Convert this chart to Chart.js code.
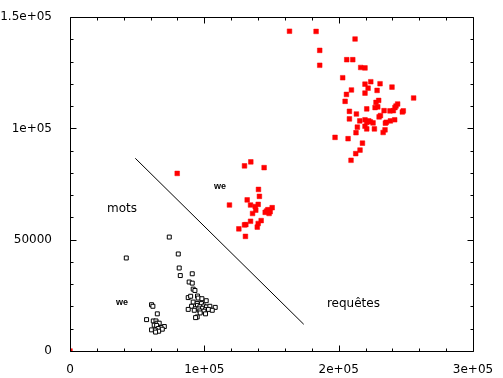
<!DOCTYPE html>
<html>
<head>
<meta charset="utf-8">
<script src="https://cdn.jsdelivr.net/npm/chart.js@4/dist/chart.umd.min.js"></script>
<style>
html,body{margin:0;padding:0;background:#fff;}
#wrap{width:503px;height:378px;}
</style>
</head>
<body>
<div id="wrap"><canvas id="c" width="503" height="378"></canvas></div>
<script>
// ---- data ----
const motsX = [41900,73900,80600,81300,82100,91000,88700,91000,91700,93000,88000,89800,94900,95400,98200,101400,91700,94700,97900,90500,94900,96700,99700,101600,104100,108100,93200,95900,98700,100900,103100,105900,88000,92500,96700,99700,96900,100900,94700,93500,
  60700,61700,65000,57000,62000,64000,64700,66400,62700,64500,70200,67700,65700,68700,60700,63500,66000,63700];
const motsY = [41800,51200,43600,37300,33900,34700,31000,30500,27800,27200,24000,24600,24700,23800,23500,22600,22000,21400,21300,20100,20500,19900,20200,19800,20100,19600,19000,18900,19200,18600,18700,18300,18700,18300,18000,17900,17100,16700,15300,15000,
  20800,20100,16700,14100,13500,13500,12500,12500,11600,11500,11000,10600,10100,9800,9500,9400,8900,8500];

const reqX = [0,
  79800,129900,134600,144500,140300,141000,131900,118700,134400,137900,140100,150500,147300,146300,145300,149000,148200,138300,135900,142300,134400,130900,129900,140100,139400,125700,130600,
  163400,183200,212200,185900,185900,206000,210500,216400,219600,203000,223900,219600,230800,239700,209500,221900,228600,205800,219600,255800,204800,229800,227800,227100,229100,220900,243900,242700,241900,240700,238200,233800,248100,247400,208000,213200,231100,230100,208000,215700,219600,222400,223600,225600,220900,235500,238500,241700,234800,213900,219600,220900,226600,234500,233100,212900,197300,207000,217700,215900,212700,209200];
const reqY = [0,
  79800,83200,85000,82400,72600,69500,67900,65600,65600,64900,65900,64400,63500,62900,62300,62600,61800,63300,61800,58600,58300,56800,56700,57300,55700,54900,51500,
  143700,143600,140200,135100,128400,130900,130900,127400,127200,122800,121000,119900,120100,118600,117300,118100,117100,115300,115900,113700,112200,112600,111700,109400,109700,108800,111000,110100,109400,108000,107900,108000,107900,107400,107700,106500,105800,105200,104300,103400,103900,103400,103000,102500,102700,102800,103400,103900,102400,100600,101000,99800,99800,99400,98200,98100,96000,95400,93400,90300,88700,85700];

const sepX = [48600, 174000];
const sepY = [86600, 12000];

const xTickValues = [0, 100000, 200000, 300000];
const xTickLabels = ['0', '1e+05', '2e+05', '3e+05'];
const yTickValues = [0, 50000, 100000, 150000];
const yTickLabels = ['0', '50000', '1e+05', '1.5e+05'];

const noteTexts = ['mots', 'requêtes', 'we', 'we'];
const noteX = [38700, 211000, 38700, 111700];
const noteY = [63800, 21400, 21900, 73700];
const noteBig = [true, true, false, false];

// ---- build ----
const toPts = (xs, ys) => xs.map((x, i) => ({x: x, y: ys[i]}));

const framePlugin = {
  id: 'frameTicks',
  afterDatasetsDraw(chart) {
    const ctx = chart.ctx, a = chart.chartArea;
    const xs = chart.scales.x, ys = chart.scales.y;
    ctx.save();
    ctx.strokeStyle = '#000';
    ctx.lineWidth = 1;
    const L = Math.round(a.left) + 0.5, R = Math.round(a.right) + 0.5;
    const T = Math.round(a.top) + 0.5, B = Math.round(a.bottom) + 0.5;
    ctx.beginPath();
    ctx.rect(L, T, R - L, B - T);
    ctx.stroke();
    ctx.beginPath();
    xs.ticks.forEach(t => {
      const p = Math.round(xs.getPixelForValue(t.value)) + 0.5;
      const len = xTickValues.indexOf(t.value) >= 0 ? 6 : 3;
      ctx.moveTo(p, B); ctx.lineTo(p, B - len);
      ctx.moveTo(p, T); ctx.lineTo(p, T + len);
    });
    ys.ticks.forEach(t => {
      const p = Math.round(ys.getPixelForValue(t.value)) + 0.5;
      const len = yTickValues.indexOf(t.value) >= 0 ? 6 : 3;
      ctx.moveTo(L, p); ctx.lineTo(L + len, p);
      ctx.moveTo(R, p); ctx.lineTo(R - len, p);
    });
    ctx.stroke();
    // notes
    ctx.fillStyle = '#000';
    ctx.textAlign = 'center';
    ctx.textBaseline = 'middle';
    noteTexts.forEach((txt, i) => {
      ctx.font = noteBig[i] ? '12px "DejaVu Sans"' : 'bold 9px "Liberation Sans"';
      ctx.fillText(txt, xs.getPixelForValue(noteX[i]), ys.getPixelForValue(noteY[i]));
    });
    ctx.restore();
  }
};

new Chart(document.getElementById('c'), {
  type: 'scatter',
  data: {
    datasets: [
      {
        label: 'sep', type: 'line', data: toPts(sepX, sepY),
        borderColor: '#000', borderWidth: 1, pointRadius: 0, showLine: true, fill: false
      },
      {
        label: 'mots', data: toPts(motsX, motsY),
        pointStyle: 'rect', pointRadius: 2.8, borderColor: '#000', backgroundColor: '#fff', borderWidth: 1
      },
      {
        label: 'requetes', data: toPts(reqX, reqY),
        pointStyle: 'rect', pointRadius: 3.3, borderColor: '#f00', backgroundColor: '#f00', borderWidth: 0.5
      }
    ]
  },
  options: {
    responsive: false,
    animation: false,
    events: [],
    layout: { padding: { top: 15, right: 30, left: 0, bottom: 0 } },
    plugins: { legend: { display: false }, tooltip: { enabled: false } },
    scales: {
      x: {
        type: 'linear', min: 0, max: 300000,
        afterFit: s => { s.height = 27; },
        grid: { display: false }, border: { display: false },
        ticks: {
          stepSize: 20000, autoSkip: false, maxRotation: 0, padding: 4,
          color: '#000', font: { family: 'DejaVu Sans', size: 12 },
          callback: v => { const i = xTickValues.indexOf(v); return i >= 0 ? xTickLabels[i] : ''; }
        }
      },
      y: {
        type: 'linear', min: 0, max: 150000,
        afterFit: s => { s.width = 70; },
        grid: { display: false }, border: { display: false },
        ticks: {
          stepSize: 10000, autoSkip: false, padding: 10,
          color: '#000', font: { family: 'DejaVu Sans', size: 12 },
          callback: v => { const i = yTickValues.indexOf(v); return i >= 0 ? yTickLabels[i] : ''; }
        }
      }
    }
  },
  plugins: [framePlugin]
});
</script>
</body>
</html>
